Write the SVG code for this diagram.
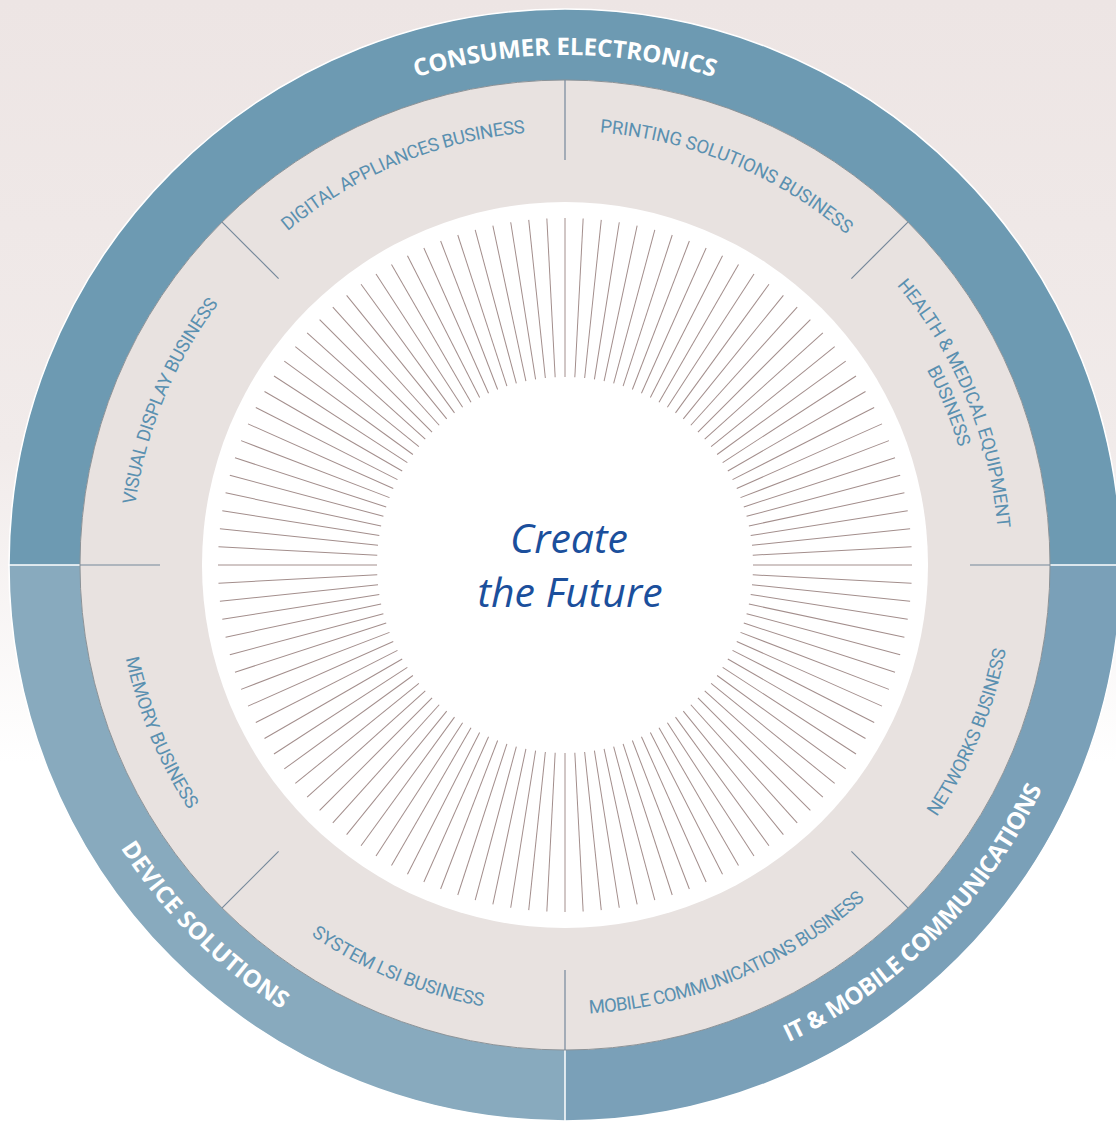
<svg xmlns="http://www.w3.org/2000/svg" xmlns:xlink="http://www.w3.org/1999/xlink" width="1116" height="1121" viewBox="0 0 1116 1121">
  <style>
    .head { font-family: "Open Sans", "Liberation Sans", sans-serif; font-weight: 700; font-size: 24px; fill: #ffffff; text-anchor: middle; }
    .lbl { font-family: Roboto, "Liberation Sans", sans-serif; font-weight: 400; font-size: 18.5px; fill: #5a90b0; text-anchor: middle; }
    .div { stroke: #75889a; stroke-width: 1.2; fill: none; }
    .sep { stroke: #ffffff; stroke-width: 1.5; fill: none; }
    .ray { stroke: #a38e8c; stroke-width: 1; }
    .center { font-family: "Open Sans", "Liberation Sans", sans-serif; font-style: italic; font-size: 41px; fill: #1b4f9c; text-anchor: middle; }
  </style>
  <defs>
    <linearGradient id="bg" x1="0" y1="0" x2="0" y2="1121" gradientUnits="userSpaceOnUse">
      <stop offset="0" stop-color="#ede5e4"/>
      <stop offset="0.4" stop-color="#f1ebea"/>
      <stop offset="0.68" stop-color="#ffffff"/>
    </linearGradient>
    <line id="ray" class="ray" x1="565" y1="218" x2="565" y2="377"/>
    <g id="ray5">
      <use href="#ray"/>
      <use href="#ray" transform="rotate(3 565 565)"/>
      <use href="#ray" transform="rotate(6 565 565)"/>
      <use href="#ray" transform="rotate(9 565 565)"/>
      <use href="#ray" transform="rotate(12 565 565)"/>
    </g>
    <path id="p-ce" d="M 237.2 174.3 A 510 510 0 0 1 892.8 174.3"/>
    <path id="p-ds" d="M 40.0 610.9 A 527 527 0 0 0 519.1 1090.0"/>
    <path id="p-it" d="M 610.9 1090.0 A 527 527 0 0 0 1090.0 610.9"/>
    <path id="p-vd" d="M 151.1 695.5 A 434 434 0 0 1 364.6 180.0"/>
    <path id="p-da" d="M 180.0 364.6 A 434 434 0 0 1 695.5 151.1"/>
    <path id="p-ps" d="M 434.5 151.1 A 434 434 0 0 1 950.0 364.6"/>
    <path id="p-hm1" d="M 765.4 180.0 A 434 434 0 0 1 978.9 695.5"/>
    <path id="p-hm2" d="M 754.8 200.4 A 411 411 0 0 1 957.0 688.6"/>
    <path id="p-nw" d="M 772.3 963.3 A 449 449 0 0 0 993.2 430.0"/>
    <path id="p-mc" d="M 430.0 993.2 A 449 449 0 0 0 963.3 772.3"/>
    <path id="p-sl" d="M 166.7 772.3 A 449 449 0 0 0 700.0 993.2"/>
    <path id="p-me" d="M 136.8 430.0 A 449 449 0 0 0 357.7 963.3"/>
  </defs>

  <rect x="0" y="0" width="1116" height="1121" fill="url(#bg)"/>

  <!-- Outer segments -->
  <g id="consumer-electronics">
    <path d="M 9 565 A 556 556 0 0 1 1121 565 L 1050 565 A 485 485 0 0 0 80 565 Z" fill="#6d9ab2"/>
  </g>
  <g id="device-solutions">
    <path d="M 565 1121 A 556 556 0 0 1 9 565 L 80 565 A 485 485 0 0 0 565 1050 Z" fill="#88aabe"/>
  </g>
  <g id="it-mobile">
    <path d="M 1121 565 A 556 556 0 0 1 565 1121 L 565 1050 A 485 485 0 0 0 1050 565 Z" fill="#7aa0b8"/>
  </g>
  <circle cx="565" cy="565" r="556" fill="none" stroke="#ffffff" stroke-width="1.5"/>
  <g id="outer-separators">
    <line class="sep" x1="8" y1="565" x2="80" y2="565"/>
    <line class="sep" x1="1050" y1="565" x2="1122" y2="565"/>
    <line class="sep" x1="565" y1="1050" x2="565" y2="1122"/>
  </g>

  <!-- Beige ring -->
  <circle cx="565" cy="565" r="485" fill="#e8e2e0" stroke="#8b9297" stroke-width="1"/>
  <circle cx="565" cy="565" r="363" fill="#ffffff"/>

  <!-- Rays -->
  <g id="rays">
    <use href="#ray5"/>
    <use href="#ray5" transform="rotate(15 565 565)"/>
    <use href="#ray5" transform="rotate(30 565 565)"/>
    <use href="#ray5" transform="rotate(45 565 565)"/>
    <use href="#ray5" transform="rotate(60 565 565)"/>
    <use href="#ray5" transform="rotate(75 565 565)"/>
    <use href="#ray5" transform="rotate(90 565 565)"/>
    <use href="#ray5" transform="rotate(105 565 565)"/>
    <use href="#ray5" transform="rotate(120 565 565)"/>
    <use href="#ray5" transform="rotate(135 565 565)"/>
    <use href="#ray5" transform="rotate(150 565 565)"/>
    <use href="#ray5" transform="rotate(165 565 565)"/>
    <use href="#ray5" transform="rotate(180 565 565)"/>
    <use href="#ray5" transform="rotate(195 565 565)"/>
    <use href="#ray5" transform="rotate(210 565 565)"/>
    <use href="#ray5" transform="rotate(225 565 565)"/>
    <use href="#ray5" transform="rotate(240 565 565)"/>
    <use href="#ray5" transform="rotate(255 565 565)"/>
    <use href="#ray5" transform="rotate(270 565 565)"/>
    <use href="#ray5" transform="rotate(285 565 565)"/>
    <use href="#ray5" transform="rotate(300 565 565)"/>
    <use href="#ray5" transform="rotate(315 565 565)"/>
    <use href="#ray5" transform="rotate(330 565 565)"/>
    <use href="#ray5" transform="rotate(345 565 565)"/>
  </g>

  <!-- Sector dividers -->
  <g id="dividers">
    <line class="div" x1="565" y1="80" x2="565" y2="160"/>
    <line class="div" x1="907.9" y1="222.1" x2="851.4" y2="278.6"/>
    <line class="div" x1="1050" y1="565" x2="970" y2="565"/>
    <line class="div" x1="907.9" y1="907.9" x2="851.4" y2="851.4"/>
    <line class="div" x1="565" y1="1050" x2="565" y2="970"/>
    <line class="div" x1="222.1" y1="907.9" x2="278.6" y2="851.4"/>
    <line class="div" x1="80" y1="565" x2="160" y2="565"/>
    <line class="div" x1="222.1" y1="222.1" x2="278.6" y2="278.6"/>
  </g>

  <!-- Headings -->
  <g id="label-consumer-electronics">
    <text class="head"><textPath href="#p-ce" startOffset="50%" textLength="302">CONSUMER ELECTRONICS</textPath></text>
  </g>
  <g id="label-device-solutions">
    <text class="head"><textPath href="#p-ds" startOffset="50%" textLength="230">DEVICE SOLUTIONS</textPath></text>
  </g>
  <g id="label-it-mobile">
    <text class="head"><textPath href="#p-it" startOffset="50%" textLength="366">IT &amp; MOBILE COMMUNICATIONS</textPath></text>
  </g>

  <!-- Business sectors -->
  <g id="visual-display">
    <text class="lbl"><textPath href="#p-vd" startOffset="50%" textLength="220">VISUAL DISPLAY BUSINESS</textPath></text>
  </g>
  <g id="digital-appliances">
    <text class="lbl"><textPath href="#p-da" startOffset="50%" textLength="261">DIGITAL APPLIANCES BUSINESS</textPath></text>
  </g>
  <g id="printing-solutions">
    <text class="lbl"><textPath href="#p-ps" startOffset="50%" textLength="271">PRINTING SOLUTIONS BUSINESS</textPath></text>
  </g>
  <g id="health-medical">
    <text class="lbl"><textPath href="#p-hm1" startOffset="50%" textLength="267">HEALTH &amp; MEDICAL EQUIPMENT</textPath></text>
    <text class="lbl"><textPath href="#p-hm2" startOffset="50%" textLength="84">BUSINESS</textPath></text>
  </g>
  <g id="networks">
    <text class="lbl"><textPath href="#p-nw" startOffset="50%" textLength="182">NETWORKS BUSINESS</textPath></text>
  </g>
  <g id="mobile-communications">
    <text class="lbl"><textPath href="#p-mc" startOffset="50%" textLength="304">MOBILE COMMUNICATIONS BUSINESS</textPath></text>
  </g>
  <g id="system-lsi">
    <text class="lbl"><textPath href="#p-sl" startOffset="50%" textLength="187">SYSTEM LSI BUSINESS</textPath></text>
  </g>
  <g id="memory">
    <text class="lbl"><textPath href="#p-me" startOffset="50%" textLength="165">MEMORY BUSINESS</textPath></text>
  </g>

  <!-- Center -->
  <g id="center">
    <text class="center" x="569" y="553">Create</text>
    <text class="center" x="570" y="607">the Future</text>
  </g>
</svg>
